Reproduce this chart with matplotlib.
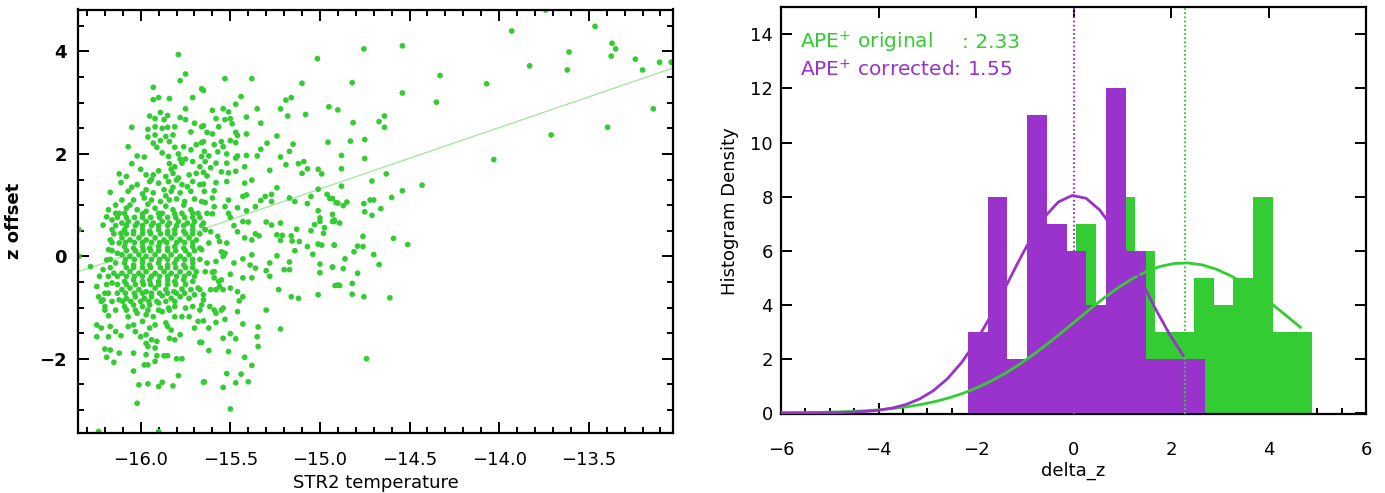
import numpy as np
import matplotlib
matplotlib.use("Agg")
import matplotlib.pyplot as plt
from matplotlib.ticker import MultipleLocator, FuncFormatter

GREEN = '#33cc33'
PURPLE = '#9933cc'
FIT_LINE = '#a6e6a6'

# ---- left panel: z offset vs STR2 temperature ----
# sparse right-hand part
pts_sparse = [
    (-13.74, 4.81), (-13.465, 4.49), (-13.93, 4.40), (-14.755, 4.05), (-14.54, 4.11),
    (-13.61, 3.99), (-13.37, 4.16), (-13.35, 4.05), (-13.375, 3.91), (-13.24, 3.85),
    (-13.20, 3.64), (-13.105, 3.79), (-13.04, 3.79), (-13.02, 4.72), (-13.83, 3.72),
    (-13.62, 3.64), (-14.07, 3.37), (-14.33, 3.53), (-14.35, 3.01), (-14.54, 3.19),
    (-14.82, 3.39), (-13.14, 2.88), (-13.395, 2.52), (-13.71, 2.37), (-14.03, 1.89),
    (-14.90, 2.86), (-14.815, 2.61), (-14.64, 2.74), (-14.67, 2.63), (-14.64, 2.52),
    (-14.83, 2.25), (-14.75, 2.28), (-14.88, 1.97), (-14.75, 1.91), (-14.88, 1.71),
    (-14.63, 1.61), (-14.71, 1.47), (-14.88, 1.37), (-14.43, 1.39), (-14.54, 1.28),
    (-14.60, 1.15), (-14.93, 1.13), (-14.91, 1.05), (-14.87, 0.99), (-14.85, 1.06),
    (-14.755, 1.03), (-14.72, 1.10), (-14.70, 1.10), (-14.75, 0.87), (-14.71, 0.80),
    (-14.66, 0.93), (-14.93, 0.82), (-14.93, 0.68), (-14.92, 0.71), (-14.89, 0.65),
    (-14.92, 0.22), (-14.76, 0.39), (-14.79, 0.20), (-14.76, 0.19), (-14.81, 0.09),
    (-14.59, 0.35), (-14.51, 0.23), (-14.70, 0.035), (-14.86, -0.05), (-14.67, -0.16),
    (-14.93, -0.21), (-14.87, -0.24), (-14.79, -0.33), (-14.915, -0.57), (-14.89, -0.57),
    (-14.82, -0.53), (-14.82, -0.74), (-14.755, -0.79), (-14.61, -0.81), (-14.74, -2.00),
]

# middle part, upper half
pts_mid_top = [
    (-15.014, 3.86), (-15.53, 3.47), (-15.38, 3.47), (-15.10, 3.38), (-15.65, 3.24),
    (-15.44, 3.12), (-15.16, 3.10), (-15.19, 3.05), (-15.47, 2.97), (-14.95, 2.92),
    (-15.54, 2.88), (-15.60, 2.85), (-15.51, 2.82), (-15.35, 2.88), (-15.22, 2.88),
    (-15.18, 2.74), (-15.08, 2.77), (-15.58, 2.69), (-15.53, 2.67), (-15.50, 2.69),
    (-15.41, 2.72), (-15.65, 2.55), (-15.565, 2.53), (-15.49, 2.59), (-15.33, 2.60),
    (-15.63, 2.42), (-15.60, 2.39), (-15.47, 2.42), (-15.41, 2.39), (-15.46, 2.36),
    (-15.24, 2.35), (-15.66, 2.22), (-15.59, 2.18), (-15.55, 2.24), (-15.50, 2.26),
    (-15.47, 2.22), (-15.54, 2.14), (-15.295, 2.21), (-15.33, 2.09), (-15.15, 2.19),
    (-14.955, 2.23), (-15.645, 2.05), (-15.57, 2.04), (-15.52, 2.00), (-15.62, 1.96),
    (-15.46, 1.96), (-15.41, 1.97), (-15.35, 1.96), (-15.22, 1.94), (-15.17, 2.05),
    (-15.47, 1.92), (-15.64, 1.85), (-15.58, 1.82), (-15.52, 1.82), (-15.42, 1.75),
    (-15.19, 1.79), (-15.12, 1.81), (-15.09, 1.85), (-15.61, 1.73), (-15.55, 1.65),
    (-15.51, 1.63), (-15.47, 1.66), (-15.28, 1.68), (-15.10, 1.62), (-15.07, 1.71),
    (-15.01, 1.70), (-14.99, 1.61), (-15.63, 1.57), (-15.58, 1.44), (-15.52, 1.46),
    (-15.42, 1.43), (-15.38, 1.49), (-15.65, 1.41), (-15.645, 1.27), (-15.59, 1.28),
    (-15.43, 1.17), (-15.41, 1.20), (-15.24, 1.34), (-15.27, 1.21), (-15.17, 1.14),
    (-15.01, 1.31), (-14.96, 1.21), (-14.945, 1.13), (-15.60, 1.14), (-15.51, 1.10),
    (-15.64, 1.05), (-15.59, 0.97), (-15.53, 0.97), (-15.33, 1.09), (-15.305, 1.17),
    (-15.36, 0.97), (-15.27, 1.07), (-15.14, 1.07), (-15.07, 1.03), (-15.05, 1.17),
    (-15.63, 0.84), (-15.51, 0.84), (-15.46, 0.95), (-15.41, 0.89), (-15.01, 0.89),
    (-15.00, 0.75), (-14.90, 1.04), (-15.50, 0.76),
]

# middle part, lower half
pts_mid_low = [
    (-15.60, 0.83), (-15.43, 0.68), (-15.40, 0.67), (-15.30, 0.67), (-15.27, 0.61),
    (-15.22, 0.65), (-15.48, 0.60), (-15.64, 0.52), (-15.61, 0.48), (-15.57, 0.39),
    (-15.46, 0.48), (-15.42, 0.36), (-15.38, 0.32), (-15.36, 0.44), (-15.34, 0.40),
    (-15.24, 0.42), (-15.21, 0.41), (-15.22, 0.31), (-15.16, 0.40), (-15.155, 0.30),
    (-15.13, 0.53), (-15.115, 0.29), (-15.05, 0.50), (-15.03, 0.62), (-15.00, 0.68),
    (-14.975, 0.56), (-14.98, 0.45), (-14.92, 0.68), (-15.07, 0.19), (-15.04, 0.04),
    (-15.01, 0.24), (-14.99, 0.22), (-14.92, 0.22), (-15.14, 0.11), (-15.24, 0.01),
    (-15.28, -0.13), (-15.17, -0.11), (-15.20, -0.26), (-15.17, -0.26), (-15.00, -0.15),
    (-15.00, -0.32), (-14.93, -0.21), (-14.90, -0.56), (-15.28, -0.39), (-15.23, -0.65),
    (-15.16, -0.79), (-15.12, -0.82), (-15.01, -0.75), (-15.30, -1.05), (-15.22, -1.42),
    (-15.345, -1.38), (-15.35, -1.57), (-15.345, -1.76), (-15.43, -1.32), (-15.46, -1.08),
    (-15.45, -0.87), (-15.50, -1.51), (-15.47, -1.61), (-15.54, -1.60), (-15.51, -1.86),
    (-15.42, -1.97), (-15.38, -2.13), (-15.44, -2.30), (-15.40, -2.45), (-15.47, -2.47),
    (-15.52, -2.29), (-15.54, -2.56), (-15.50, -2.98), (-15.645, -2.45), (-15.62, -1.84),
    (-15.67, -1.68), (-15.65, -1.26), (-15.58, -1.29), (-15.53, -1.23), (-15.62, -1.40),
    (-15.55, -1.05), (-15.58, -1.11), (-15.615, -0.98), (-15.54, -1.01), (-15.59, -1.05),
    (-15.66, -0.95), (-15.46, -0.69), (-15.43, -0.79), (-15.30, -0.28), (-15.38, -0.42),
    (-15.43, -0.42), (-15.50, -0.35), (-15.60, -0.31), (-15.64, -0.30), (-15.59, -0.42),
    (-15.565, -0.49), (-15.55, -0.46), (-15.56, -0.59), (-15.54, -0.65), (-15.61, -0.65),
    (-15.58, -0.65), (-15.50, -0.62), (-15.65, -0.75), (-15.67, -0.65), (-15.48, -0.13),
    (-15.43, -0.05), (-15.39, -0.17), (-15.36, -0.23), (-15.38, 0.03), (-15.59, -0.30),
    (-15.63, -0.13), (-15.58, -0.10), (-15.53, 0.06), (-15.55, 0.09), (-15.54, -0.00),
    (-15.66, 0.13), (-15.62, 0.26), (-15.56, 0.29), (-15.52, 0.26),
]

# dense core, upper part
pts_core_top = [
    (-15.79, 3.94), (-15.75, 3.56), (-15.78, 3.43), (-15.93, 3.30), (-15.66, 3.27),
    (-15.90, 3.10), (-15.93, 3.06), (-15.84, 3.08), (-15.71, 3.10), (-15.75, 2.88),
    (-15.95, 2.74), (-15.89, 2.81), (-15.92, 2.69), (-15.85, 2.75), (-15.87, 2.67),
    (-15.78, 2.71), (-15.75, 2.67), (-15.70, 2.60), (-16.05, 2.52), (-15.96, 2.48),
    (-15.92, 2.53), (-15.88, 2.50), (-15.85, 2.52), (-15.81, 2.53), (-15.72, 2.43),
    (-15.66, 2.53), (-15.96, 2.33), (-15.92, 2.37), (-15.86, 2.34), (-15.82, 2.37),
    (-15.93, 2.21), (-15.89, 2.26), (-15.84, 2.24), (-16.07, 2.14), (-15.91, 2.13),
    (-15.81, 2.13), (-15.76, 2.14), (-15.72, 2.08), (-15.69, 2.18), (-15.65, 2.24),
    (-16.02, 1.96), (-15.98, 1.94), (-15.88, 2.02), (-15.845, 1.95), (-15.79, 2.00),
    (-15.75, 1.90), (-15.71, 1.85), (-15.66, 1.95), (-16.05, 1.81), (-15.84, 1.81),
    (-15.81, 1.75), (-15.77, 1.82), (-15.67, 1.75), (-16.12, 1.61), (-16.08, 1.56),
    (-15.97, 1.59), (-15.93, 1.59), (-15.86, 1.56), (-15.82, 1.62), (-15.73, 1.59),
    (-15.69, 1.62), (-15.65, 1.64), (-16.11, 1.44), (-16.02, 1.40), (-15.95, 1.46),
    (-15.90, 1.43), (-15.845, 1.46), (-15.80, 1.49), (-15.77, 1.40), (-15.71, 1.46),
    (-15.67, 1.40), (-16.17, 1.25), (-16.07, 1.27), (-15.97, 1.30), (-15.93, 1.24),
    (-15.87, 1.30), (-15.83, 1.27), (-15.78, 1.24), (-15.72, 1.27), (-16.105, 1.10),
    (-16.04, 1.10), (-15.98, 1.14), (-15.94, 1.10), (-15.89, 1.07), (-15.84, 1.10),
    (-15.80, 1.12), (-15.755, 1.07), (-15.70, 1.12), (-15.66, 1.07), (-16.18, 0.91),
    (-16.12, 0.84), (-16.08, 0.94), (-16.02, 0.91), (-15.97, 0.88), (-15.92, 0.94),
    (-15.88, 0.84), (-15.82, 0.91), (-15.77, 0.84), (-15.72, 0.91), (-15.68, 0.84),
    (-15.86, 1.18), (-15.82, 1.35), (-15.79, 1.53), (-15.83, 1.70), (-15.78, 1.90),
    (-15.94, 1.50), (-15.99, 1.22), (-16.05, 1.35), (-15.74, 1.36), (-15.90, 1.67),
    (-15.96, 1.02), (-16.06, 1.00), (-15.76, 1.00), (-15.86, 0.98), (-16.00, 1.70),
    (-16.14, 1.00),
]

# dense core, lower part
pts_core_low = [
    (-16.345, 0.52), (-16.345, 0.00), (-16.28, -0.20), (-16.245, -0.59), (-16.23, -0.39),
    (-16.21, -0.26), (-16.19, -0.07), (-16.18, 0.13), (-16.17, 0.32), (-16.16, 0.52),
    (-16.16, 0.71), (-16.14, 0.84), (-16.19, 0.77), (-16.21, 0.61), (-16.235, -0.79),
    (-16.21, -0.85), (-16.20, -0.98), (-16.18, -0.72), (-16.16, -0.52), (-16.15, -0.33),
    (-16.14, -0.13), (-16.13, 0.06), (-16.12, 0.26), (-16.11, 0.45), (-16.105, 0.65),
    (-16.245, -1.34), (-16.245, -1.57), (-16.22, -1.40), (-16.18, -1.16), (-16.17, -1.37),
    (-16.14, -1.47), (-16.11, -1.55), (-16.18, -1.57), (-16.20, -1.81), (-16.17, -1.83),
    (-16.19, -1.97), (-16.15, -2.07), (-16.12, -1.89), (-16.04, -2.24), (-16.01, -2.51),
    (-15.96, -2.49), (-16.02, -2.87), (-15.90, -2.54), (-15.88, -2.46), (-15.82, -2.53),
    (-15.79, -2.33), (-15.65, -2.46), (-15.98, -2.12), (-15.96, -2.12), (-15.92, -2.05),
    (-16.04, -1.89), (-15.97, -1.92), (-15.91, -1.94), (-15.87, -1.94), (-15.85, -1.94),
    (-15.80, -2.00), (-15.77, -2.00), (-15.84, -1.60), (-15.81, -1.63), (-15.78, -1.53),
    (-15.85, -1.37), (-15.83, -1.44), (-15.86, -1.30), (-15.81, -1.18), (-15.77, -1.18),
    (-15.73, -1.18), (-15.68, -1.27), (-15.66, -1.68), (-15.70, -1.40), (-15.94, -1.63),
    (-15.96, -1.76), (-15.92, -1.79), (-15.97, -1.70), (-16.00, -1.57), (-16.03, -1.47),
    (-15.97, -1.53), (-15.91, -1.66), (-16.07, -1.37), (-16.04, -1.34), (-15.99, -1.27),
    (-15.95, -1.40), (-15.92, -1.34), (-16.07, -1.18), (-16.02, -1.11), (-15.97, -1.14),
    (-15.93, -1.18), (-15.88, -1.08), (-15.845, -1.01), (-15.81, -0.98), (-15.75, -1.01),
    (-15.71, -0.98), (-15.67, -1.05), (-16.09, -0.98), (-16.04, -0.95), (-15.99, -0.98),
    (-15.95, -0.95), (-15.90, -0.91), (-16.12, -0.85), (-16.08, -0.82), (-16.03, -0.79),
    (-15.98, -0.82), (-15.94, -0.79), (-15.88, -0.77), (-15.83, -0.82), (-15.78, -0.79),
    (-15.73, -0.82), (-15.70, -0.75), (-15.65, -0.85), (-16.105, -0.65), (-16.06, -0.62),
    (-16.01, -0.65), (-15.97, -0.69), (-15.92, -0.62), (-15.86, -0.65), (-15.815, -0.69),
    (-15.77, -0.64), (-15.72, -0.65), (-15.68, -0.62), (-16.09, -0.49), (-16.04, -0.46),
    (-15.99, -0.49), (-15.95, -0.46), (-15.90, -0.49), (-15.85, -0.46), (-15.81, -0.49),
    (-15.76, -0.46), (-15.71, -0.49), (-16.105, -0.33), (-16.06, -0.30), (-16.01, -0.33),
    (-15.97, -0.30), (-15.92, -0.33), (-15.87, -0.30), (-15.83, -0.33), (-15.78, -0.30),
    (-15.73, -0.33), (-15.69, -0.30), (-16.09, -0.13), (-16.04, -0.17), (-15.99, -0.13),
    (-15.95, -0.17), (-15.90, -0.13), (-15.85, -0.17), (-15.81, -0.13), (-15.76, -0.17),
    (-15.71, -0.13), (-16.105, 0.03), (-16.06, 0.00), (-16.01, 0.03), (-15.97, 0.00),
    (-15.92, 0.03), (-15.87, 0.00), (-15.83, 0.03), (-15.78, 0.00), (-15.73, 0.03),
    (-16.09, 0.19), (-16.04, 0.16), (-15.99, 0.19), (-15.95, 0.16), (-15.90, 0.19),
    (-15.85, 0.16), (-15.81, 0.19), (-15.76, 0.16), (-15.71, 0.19), (-15.67, 0.16),
    (-16.105, 0.36), (-16.06, 0.32), (-16.01, 0.36), (-15.97, 0.32), (-15.92, 0.36),
    (-15.87, 0.32), (-15.83, 0.36), (-15.78, 0.32), (-15.73, 0.36), (-15.69, 0.32),
    (-16.09, 0.52), (-16.04, 0.49), (-15.99, 0.52), (-15.95, 0.49), (-15.90, 0.52),
    (-15.85, 0.49), (-15.81, 0.52), (-15.76, 0.49), (-15.71, 0.52), (-16.07, 0.68),
    (-16.02, 0.65), (-15.97, 0.68), (-15.93, 0.65), (-15.88, 0.68), (-15.84, 0.65),
    (-15.79, 0.68), (-15.74, 0.65), (-15.70, 0.68), (-15.65, 0.65), (-16.09, 0.84),
    (-15.99, 0.83), (-15.90, 0.84), (-15.81, 0.83), (-15.71, 0.84), (-16.235, -3.42),
    (-15.90, -3.42),
]

# saturated part of the core, read row by row (z offset: temperatures)
core_fill_rows = {
    0.76: [-16.13, -16.08, -16.035, -15.99, -15.945, -15.895, -15.85, -15.805, -15.755, -15.71, -15.67],
    0.60: [-16.14, -16.08, -16.03, -15.99, -15.94, -15.90, -15.85, -15.80, -15.76, -15.71, -15.66],
    0.44: [-16.15, -16.08, -16.04, -15.99, -15.945, -15.89, -15.85, -15.81, -15.75, -15.71, -15.67],
    0.27: [-16.16, -16.085, -16.035, -15.99, -15.94, -15.895, -15.855, -15.80, -15.755, -15.71],
    0.11: [-16.16, -16.08, -16.03, -15.985, -15.945, -15.90, -15.85, -15.805, -15.75, -15.70],
    -0.06: [-16.17, -16.085, -16.035, -15.99, -15.94, -15.895, -15.85, -15.80, -15.755, -15.71, -15.67],
    -0.22: [-16.17, -16.08, -16.04, -15.99, -15.945, -15.89, -15.85, -15.805, -15.75, -15.71],
    -0.39: [-16.18, -16.13, -16.08, -16.035, -15.99, -15.94, -15.895, -15.85, -15.80, -15.755, -15.70],
    -0.55: [-16.19, -16.13, -16.08, -16.03, -15.985, -15.945, -15.90, -15.85, -15.805, -15.75],
    -0.72: [-16.20, -16.13, -16.085, -16.035, -15.99, -15.94, -15.895, -15.85, -15.80, -15.755],
    -0.88: [-16.22, -16.16, -16.10, -16.055, -16.00, -15.955, -15.91, -15.86, -15.81],
    -1.05: [-16.20, -16.14, -16.08, -16.03, -15.96, -15.90, -15.84],
}

fit_slope = 1.199
fit_intercept = 19.30
temp_range = (-16.35, -13.03)
zoff_range = (-3.44, 4.82)

# ---- right panel: delta_z histograms ----
orig_lo, orig_width = 0.05, 0.404
orig_counts = [7, 3, 8, 6, 3, 3, 5, 4, 5, 8, 3, 3]
corr_lo, corr_width = -2.17, 0.406
corr_counts = [3, 8, 2, 11, 7, 6, 4, 12, 6, 2, 2, 2]
# gaussian fits: amplitude, centre, sigma, and where the drawn curve stops
orig_fit = (5.55, 2.27, 2.25, 4.65)
corr_fit = (8.05, 0.03, 1.36, 2.25)
orig_mean = 2.29
corr_mean = 0.0
ape_orig = 2.33
ape_corr = 1.55

# ---------------------------------------------------------------
plt.rcParams['font.family'] = ['DejaVu Sans']
fig = plt.figure(figsize=(13.85, 4.93), dpi=100)
W, H = 1385, 493
ax1 = fig.add_axes([78 / W, 1 - 432.5 / H, 595 / W, 423 / H])
ax2 = fig.add_axes([781 / W, 1 - 414.3 / H, 585 / W, 407 / H])

def minus_fmt(fmt):
    return FuncFormatter(lambda v, p: (fmt % v).replace('-', '\u2212'))

for ax in (ax1, ax2):
    for sp in ax.spines.values():
        sp.set_linewidth(1.6)
    ax.tick_params(which='both', direction='in', top=True, right=True, width=1.4,
                   labelsize=13)
    ax.tick_params(which='major', length=8)
    ax.tick_params(which='minor', length=4)

# left: scatter
fill_pts = [(t, z) for z, temps in core_fill_rows.items() for t in temps]
all_pts = np.array(pts_sparse + pts_mid_top + pts_mid_low + pts_core_top
                   + pts_core_low + fill_pts)
xs = np.array(temp_range)
ax1.plot(xs, fit_slope * xs + fit_intercept, color=FIT_LINE, lw=1.0, zorder=1)
ax1.scatter(all_pts[:, 0], all_pts[:, 1], s=17, color=GREEN, edgecolors='none', zorder=2)
ax1.set_xlim(*temp_range)
ax1.set_ylim(*zoff_range)
ax1.xaxis.set_major_locator(MultipleLocator(0.5))
ax1.xaxis.set_minor_locator(MultipleLocator(0.1))
ax1.yaxis.set_major_locator(MultipleLocator(2))
ax1.yaxis.set_minor_locator(MultipleLocator(0.5))
ax1.xaxis.set_major_formatter(minus_fmt('%.1f'))
ax1.yaxis.set_major_formatter(minus_fmt('%d'))
ax1.tick_params(axis='x', pad=13)
ax1.tick_params(axis='y', pad=8)
for lab in ax1.get_yticklabels():
    lab.set_fontweight('bold')
ax1.set_xlabel('STR2 temperature', fontsize=13, labelpad=4)
ax1.set_ylabel('z offset', fontsize=13, fontweight='bold', labelpad=12)

# right: histograms + gaussian fits
orig_edges = orig_lo + orig_width * np.arange(len(orig_counts) + 1)
corr_edges = corr_lo + corr_width * np.arange(len(corr_counts) + 1)
ax2.stairs(orig_counts, orig_edges, fill=True, color=GREEN, zorder=2)
ax2.stairs(corr_counts, corr_edges, fill=True, color=PURPLE, zorder=3)

for (amp, mu, sig, end), col in ((orig_fit, GREEN), (corr_fit, PURPLE)):
    n = int(round((end + 6) / 0.285)) + 1
    gx = np.linspace(-6, end, n)
    ax2.plot(gx, amp * np.exp(-(gx - mu) ** 2 / (2 * sig ** 2)), color=col, lw=2.0, zorder=5)

ax2.axvline(corr_mean, color=PURPLE, lw=1.5, ls=(0, (0.8, 1.2)), zorder=4)
ax2.axvline(orig_mean, color=GREEN, lw=1.5, ls=(0, (0.8, 1.2)), zorder=4)

ax2.set_xlim(-6, 6)
ax2.set_ylim(-0.05, 15)
ax2.xaxis.set_major_locator(MultipleLocator(2))
ax2.xaxis.set_minor_locator(MultipleLocator(0.5))
ax2.yaxis.set_major_locator(MultipleLocator(2))
ax2.yaxis.set_minor_locator(plt.NullLocator())
ax2.tick_params(which='minor', top=False)
ax2.xaxis.set_major_formatter(minus_fmt('%d'))
ax2.yaxis.set_major_formatter(minus_fmt('%d'))
ax2.tick_params(axis='x', pad=19)
ax2.tick_params(axis='y', pad=6)
ax2.set_xlabel('delta_z', fontsize=13, labelpad=2)
ax2.set_ylabel('Histogram Density', fontsize=13, labelpad=8)

ax2.text(0.032, 0.914, 'APE$^{+}$ original', color=GREEN, fontsize=14.5,
         transform=ax2.transAxes, ha='left', va='center')
ax2.text(0.408, 0.914, ': %.2f' % ape_orig, color=GREEN, fontsize=14.5,
         transform=ax2.transAxes, ha='right', va='center')
ax2.text(0.032, 0.846, 'APE$^{+}$ corrected: %.2f' % ape_corr, color=PURPLE, fontsize=14.5,
         transform=ax2.transAxes, ha='left', va='center')

fig.savefig('out.png', dpi=100)
